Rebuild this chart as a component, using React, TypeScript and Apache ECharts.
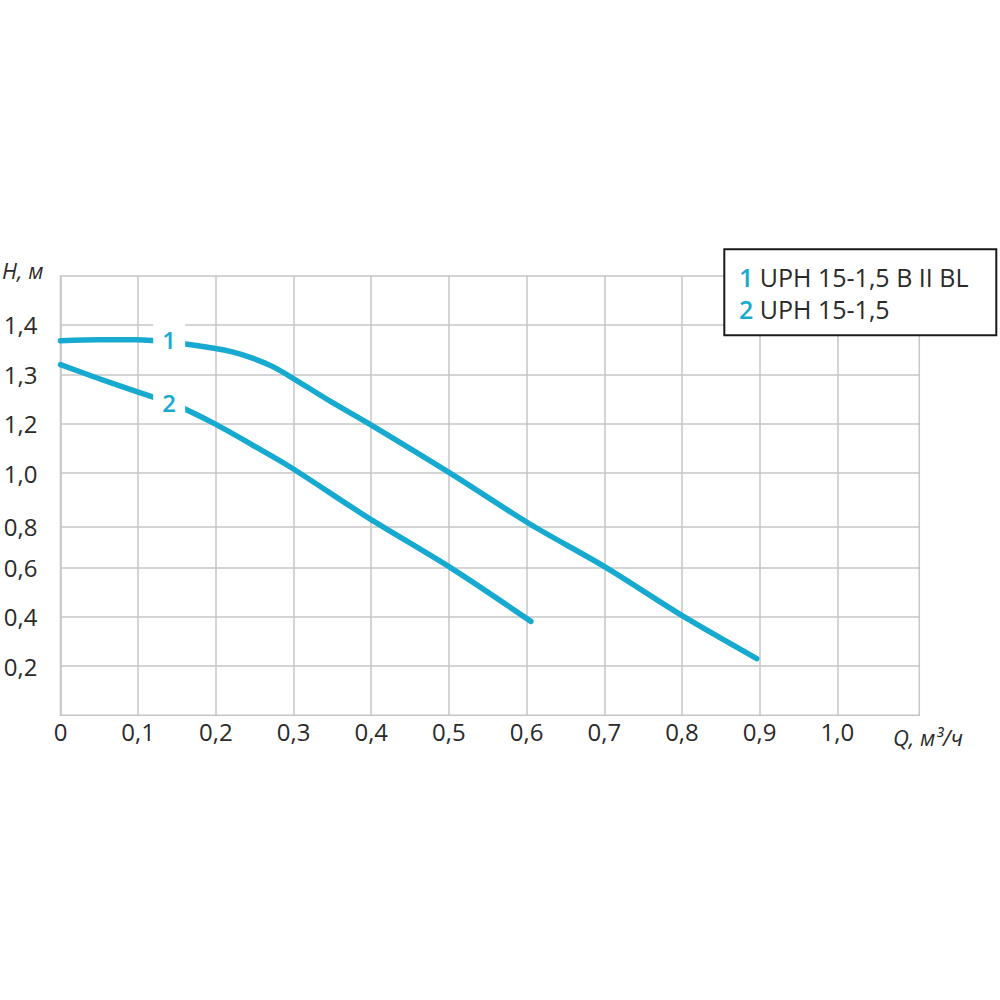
import React, { useEffect, useRef } from 'react';
import * as echarts from 'echarts';

const CURVE_COLOR = '#17aad0';
const GRID_COLOR = '#c6c6c6';
const TEXT_COLOR = '#2a2a2a';
const FONT = '"Open Sans", "Noto Sans", sans-serif';

// X axis (Q, m3/h) – printed labels
const xTickValues = [0, 0.1, 0.2, 0.3, 0.4, 0.5, 0.6, 0.7, 0.8, 0.9, 1.0];
const xTickLabels = ['0', '0,1', '0,2', '0,3', '0,4', '0,5', '0,6', '0,7', '0,8', '0,9', '1,0'];
// the printed Q grid is slightly uneven: Q value -> evenly spaced axis unit
const xScaleQ = [0, 0.1, 0.2, 0.3, 0.4, 0.5, 0.6, 0.7, 0.8, 0.9, 1.0];
const xScaleUnit = [0, 0.0981, 0.1976, 0.2967, 0.3963, 0.5015, 0.6036, 0.7019, 0.8014, 0.9002, 1.0];
const xUnitMax = 1.1055;

// Y axis (H, m) – printed labels
const yTickValues = [0.2, 0.4, 0.6, 0.8, 1.0, 1.2, 1.3, 1.4];
const yTickLabels = ['0,2', '0,4', '0,6', '0,8', '1,0', '1,2', '1,3', '1,4'];
// the printed H axis is non-linear: H value -> evenly spaced axis unit
const yScaleH = [0, 0.2, 0.4, 0.6, 0.8, 1.0, 1.2, 1.3, 1.4];
const yScaleUnit = [0, 1.01, 2.02, 3.03, 3.87, 4.96, 5.98, 6.98, 8.0];
const yUnitMax = 9;

// Curve 1: UPH 15-1,5 B II BL
const curve1Q = [0, 0.05, 0.1, 0.15, 0.2, 0.225, 0.25, 0.275, 0.3, 0.35, 0.4, 0.5, 0.6, 0.7, 0.8, 0.896];
const curve1H = [1.368, 1.37, 1.37, 1.364, 1.353, 1.345, 1.333, 1.317, 1.295, 1.246, 1.2, 1.0, 0.81, 0.6, 0.402, 0.23];

// Curve 2: UPH 15-1,5
const curve2Q = [0, 0.05, 0.1, 0.15, 0.2, 0.25, 0.3, 0.4, 0.5, 0.602];
const curve2H = [1.32, 1.292, 1.265, 1.238, 1.2, 1.113, 1.023, 0.832, 0.6, 0.381];

// curve number labels
const curveLabels = ['1', '2'];
const curveLabelQ = [0.142, 0.142];
const curveLabelH = [1.37, 1.243];

// legend
const legendNums = ['1', '2'];
const legendNames = ['UPH 15-1,5 B II BL', 'UPH 15-1,5'];

const yTitle = 'H, м';
const xTitle = 'Q, м³/ч';

function piecewise(v: number, from: number[], to: number[]): number {
  for (let i = 1; i < from.length; i++) {
    if (v <= from[i] || i === from.length - 1) {
      const t = (v - from[i - 1]) / (from[i] - from[i - 1]);
      return to[i - 1] + t * (to[i] - to[i - 1]);
    }
  }
  return 0;
}
const hToUnit = (h: number) => piecewise(h, yScaleH, yScaleUnit);
const qToUnit = (q: number) => piecewise(q, xScaleQ, xScaleUnit);

function curveSeries(name: string, q: number[], h: number[], idx: number) {
  return {
    type: 'line',
    name,
    data: q.map((v, i) => [qToUnit(v), hToUnit(h[i])]),
    symbol: 'none',
    showSymbol: false,
    smooth: 0.3,
    z: 3,
    silent: true,
    lineStyle: { color: CURVE_COLOR, width: 5.5, cap: 'round', join: 'round' },
    markPoint: {
      silent: true,
      symbol: 'rect',
      symbolSize: [32, 34],
      itemStyle: { color: '#ffffff' },
      label: {
        show: true,
        position: 'inside',
        formatter: curveLabels[idx],
        color: CURVE_COLOR,
        fontSize: 24,
        fontWeight: 600,
        fontFamily: FONT,
      },
      data: [{ coord: [qToUnit(curveLabelQ[idx]), hToUnit(curveLabelH[idx])] }],
    },
  };
}

export default function App() {
  const ref = useRef<HTMLDivElement>(null);

  useEffect(() => {
    if (!ref.current) return;
    const chart = echarts.init(ref.current, undefined, { renderer: 'svg' });

    const gridLines: any[] = [
      ...xTickValues.map((q, i) => ({
        xAxis: qToUnit(q),
        label: {
          show: true,
          position: 'start',
          formatter: xTickLabels[i],
          distance: 4,
          fontSize: 24,
          color: TEXT_COLOR,
          fontFamily: FONT,
        },
      })),
      ...yTickValues.map((h, i) => ({
        yAxis: hToUnit(h),
        label: {
          show: true,
          position: 'start',
          formatter: yTickLabels[i],
          distance: 23,
          fontSize: 24,
          color: TEXT_COLOR,
          fontFamily: FONT,
        },
      })),
    ];

    const legendX = 739;
    const legendY0 = 277;
    const legendDY = 31.6;

    const option: any = {
      animation: false,
      backgroundColor: '#ffffff',
      textStyle: { fontFamily: FONT },
      grid: {
        left: 60.5,
        right: 80.7,
        top: 276,
        bottom: 284.7,
        show: true,
        borderColor: GRID_COLOR,
        borderWidth: 1.5,
        backgroundColor: 'transparent',
        containLabel: false,
        outerBoundsMode: 'none',
      },
      xAxis: {
        type: 'value',
        min: 0,
        max: xUnitMax,
        axisLine: { show: false },
        axisTick: { show: false },
        splitLine: { show: false },
        axisLabel: { show: false },
      },
      yAxis: {
        type: 'value',
        min: 0,
        max: yUnitMax,
        interval: 1,
        axisLine: { show: false },
        axisTick: { show: false },
        splitLine: { show: false },
        axisLabel: { show: false },
      },
      series: [
        {
          type: 'line',
          name: 'grid',
          data: [[0, 0]],
          symbol: 'none',
          showSymbol: false,
          silent: true,
          z: 1,
          lineStyle: { opacity: 0 },
          markLine: {
            silent: true,
            z: 1,
            symbol: ['none', 'none'],
            lineStyle: { color: GRID_COLOR, width: 1.5, type: 'solid' },
            emphasis: { disabled: true },
            label: { show: false },
            data: gridLines,
          },
        },
        curveSeries(legendNames[0], curve1Q, curve1H, 0),
        curveSeries(legendNames[1], curve2Q, curve2H, 1),
      ],
      graphic: [
        {
          type: 'text',
          x: 2,
          y: 270,
          style: {
            text: yTitle,
            fontSize: 22,
            fontStyle: 'italic',
            fontFamily: FONT,
            fill: TEXT_COLOR,
            align: 'left',
            verticalAlign: 'middle',
            textAlign: 'left',
            textVerticalAlign: 'middle',
          },
        },
        {
          type: 'text',
          x: 893,
          y: 737,
          style: {
            text: xTitle,
            fontSize: 22,
            fontStyle: 'italic',
            fontFamily: FONT,
            fill: TEXT_COLOR,
            align: 'left',
            verticalAlign: 'middle',
            textAlign: 'left',
            textVerticalAlign: 'middle',
          },
        },
        {
          type: 'rect',
          shape: { x: 724.3, y: 249.3, width: 272, height: 86 },
          style: { fill: '#ffffff', stroke: '#1a1a1a', lineWidth: 2 },
          z: 10,
        },
        ...legendNames.map((name, i) => ({
          type: 'text',
          x: legendX,
          y: legendY0 + i * legendDY,
          z: 11,
          style: {
            text: '{n|' + legendNums[i] + '} ' + name,
            fontSize: 25,
            fontFamily: FONT,
            fill: TEXT_COLOR,
            align: 'left',
            verticalAlign: 'middle',
            textAlign: 'left',
            textVerticalAlign: 'middle',
            rich: {
              n: { fill: CURVE_COLOR, color: CURVE_COLOR, fontWeight: 600, fontSize: 25, fontFamily: FONT },
            },
          },
        })),
      ],
    };

    chart.setOption(option);
    return () => chart.dispose();
  }, []);

  return (
    <div
      ref={ref}
      style={{ position: 'absolute', left: 0, top: 0, width: 1000, height: 1000, background: '#fff' }}
    />
  );
}
